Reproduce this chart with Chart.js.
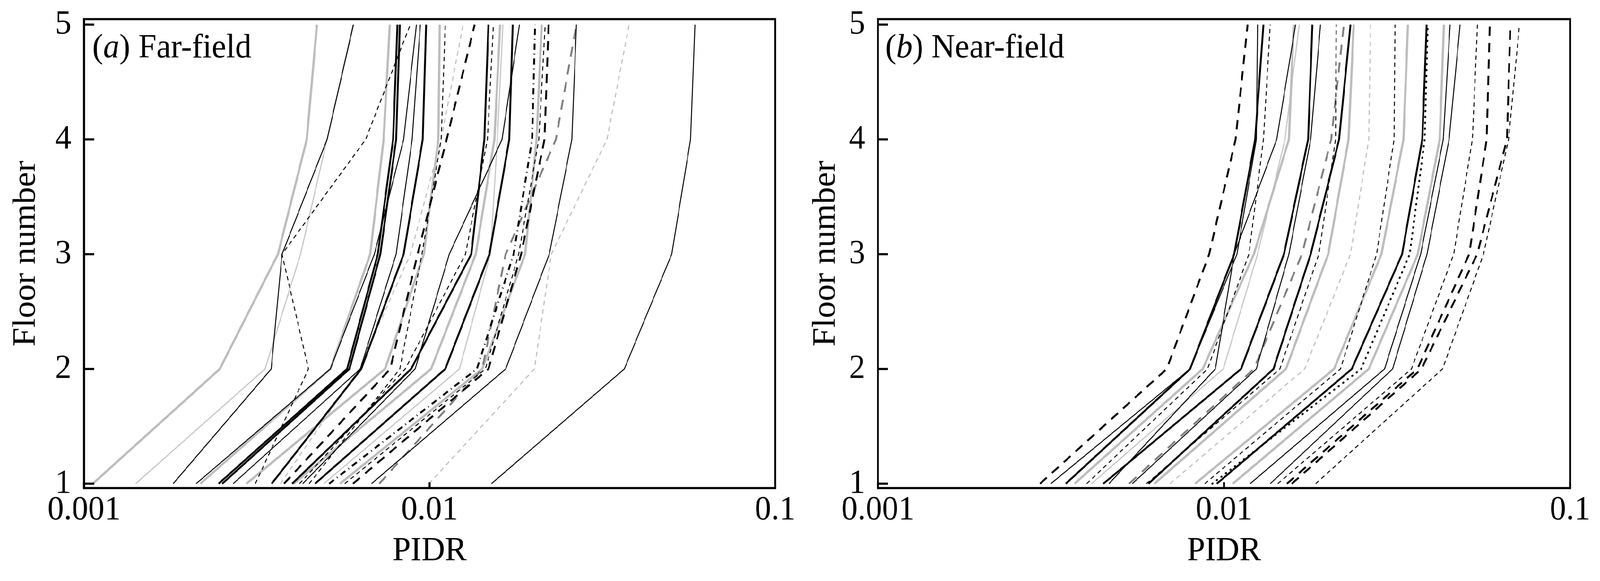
<!DOCTYPE html>
<html>
<head>
<meta charset="utf-8">
<script src="https://cdn.jsdelivr.net/npm/chart.js@4.4.1/dist/chart.umd.min.js"></script>
<style>
  html, body { margin: 0; padding: 0; background: #fff; overflow: hidden; }
  #wrap { position: relative; width: 4281px; height: 1488px; transform-origin: 0 0; }
  canvas { position: absolute; top: 0; }
</style>
</head>
<body>
<div id="wrap">
  <canvas id="farChart" width="2140" height="1488" style="left:0"></canvas>
  <canvas id="nearChart" width="2141" height="1488" style="left:2140px"></canvas>
</div>
<script>
// Pisos (eje y) y marcas de los ejes
const floors = [1, 2, 3, 4, 5];
const yTickValues = [1, 2, 3, 4, 5];
const xTickValues = [0.001, 0.01, 0.1];
const xTickLabels = ['0.001', '0.01', '0.1'];

// (a) Far-field: PIDR por piso (1..5), agrupado por tipo de linea
const farBlackThin = [
  [0.00181, 0.00348, 0.00374, 0.00505, 0.00602],
  [0.00211, 0.00516, 0.00692, 0.00841, 0.00916],
  [0.0027, 0.0063, 0.0080, 0.0089, 0.0094],
  [0.00429, 0.00908, 0.0114, 0.0162, 0.0182],
  [0.00679, 0.0166, 0.0222, 0.0258, 0.0266],
  [0.0151, 0.0366, 0.0502, 0.0569, 0.0586]
];
const farBlackThick = [
  [0.00245, 0.00577, 0.00708, 0.00784, 0.00807],
  [0.00251, 0.00586, 0.0072, 0.0080, 0.0082],
  [0.00349, 0.00634, 0.00841, 0.00955, 0.00977],
  [0.0040, 0.00884, 0.0132, 0.0144, 0.0148],
  [0.00466, 0.0111, 0.0149, 0.0170, 0.0174]
];
const farBlackDashed = [
  [0.00313, 0.00446, 0.00374, 0.00653, 0.00879],
  [0.00448, 0.0082, 0.0095, 0.0108, 0.0111],
  [0.0042, 0.0085, 0.0127, 0.0147, 0.0153],
  [0.00568, 0.0145, 0.0181, 0.0207, 0.0216]
];
const farBlackLongDash = [
  [0.00379, 0.00769, 0.00923, 0.0112, 0.0135],
  [0.0060, 0.0148, 0.0184, 0.0215, 0.0221]
];
const farBlackDashDot = [
  [0.00512, 0.0137, 0.0175, 0.0198, 0.0202]
];
const farGrayThick = [
  [0.00106, 0.00247, 0.00364, 0.00441, 0.00472],
  [0.00217, 0.00516, 0.00673, 0.00736, 0.00767],
  [0.00295, 0.00743, 0.00962, 0.0106, 0.0107],
  [0.00404, 0.0101, 0.0136, 0.0154, 0.0160],
  [0.0055, 0.0142, 0.0189, 0.0204, 0.0211]
];
const farGrayThin = [
  [0.00141, 0.00334, 0.00423, 0.00505, 0.0060],
  [0.00494, 0.0122, 0.0150, 0.0157, 0.0163]
];
const farGrayDashed = [
  [0.00715, 0.0142, 0.0166, 0.0232, 0.0266]
];
const farLightGrayDashed = [
  [0.00996, 0.0201, 0.0225, 0.0326, 0.0378],
  [0.0037, 0.00625, 0.0088, 0.0108, 0.0125]
];

// (b) Near-field
const nearBlackThin = [
  [0.00316, 0.00798, 0.0109, 0.0124, 0.0125],
  [0.00465, 0.00944, 0.0107, 0.0142, 0.0161],
  [0.00543, 0.0124, 0.0154, 0.0178, 0.0190],
  [0.0119, 0.0291, 0.0370, 0.0430, 0.0450],
  [0.0136, 0.0307, 0.0386, 0.0447, 0.0481]
];
const nearBlackThick = [
  [0.00349, 0.00798, 0.0107, 0.0123, 0.0130],
  [0.00448, 0.0112, 0.0149, 0.0175, 0.0180],
  [0.00605, 0.0139, 0.0178, 0.0215, 0.0232],
  [0.00953, 0.0234, 0.0327, 0.0374, 0.0385]
];
const nearBlackDashed = [
  [0.00401, 0.00896, 0.0118, 0.0130, 0.0136],
  [0.00597, 0.0145, 0.0188, 0.0210, 0.0211],
  [0.0088, 0.0217, 0.0276, 0.0310, 0.0312],
  [0.0143, 0.0348, 0.0461, 0.0522, 0.0540],
  [0.0184, 0.0428, 0.0562, 0.0664, 0.0714]
];
const nearBlackLongDash = [
  [0.00294, 0.00683, 0.00906, 0.0108, 0.0117],
  [0.0152, 0.0362, 0.0511, 0.0574, 0.0586],
  [0.0157, 0.0372, 0.0539, 0.0657, 0.0672]
];
const nearBlackDotted = [
  [0.00925, 0.0249, 0.0344, 0.0380, 0.0388]
];
const nearGrayThick = [
  [0.0037, 0.00868, 0.0122, 0.0154, 0.0159],
  [0.00629, 0.0151, 0.0200, 0.0229, 0.0237],
  [0.00825, 0.0208, 0.0285, 0.0330, 0.0340],
  [0.0106, 0.0262, 0.0363, 0.0420, 0.0432]
];
const nearGrayThin = [
  [0.00414, 0.00995, 0.0125, 0.0150, 0.0165]
];
const nearGrayDashed = [
  [0.00532, 0.0122, 0.0168, 0.0204, 0.0222]
];
const nearLightGrayDashed = [
  [0.00698, 0.0171, 0.0232, 0.0262, 0.0265]
];

// Estilos de linea
const lineStyles = {
  blackThin: { color: '#000000', width: 2.5, dash: [] },
  blackThick: { color: '#000000', width: 5, dash: [] },
  blackDashed: { color: '#000000', width: 2.5, dash: [11, 9] },
  blackLongDash: { color: '#000000', width: 5, dash: [24, 18] },
  blackDashDot: { color: '#000000', width: 5, dash: [16, 10, 2, 10] },
  blackDotted: { color: '#000000', width: 5, dash: [1, 14], cap: 'round' },
  grayThick: { color: '#bdbdbd', width: 6, dash: [] },
  grayThin: { color: '#c6c6c6', width: 3, dash: [] },
  grayDashed: { color: '#808080', width: 5, dash: [26, 20] },
  lightGrayDashed: { color: '#c0c0c0', width: 3, dash: [12, 10] }
};

const fontFamily = '"Liberation Serif", "Times New Roman", serif';
const textSize = 87;

// Si la ventana no mide 4281x1488, se escala todo el dibujo para que quepa
const fitPage = () => {
  const w = window.innerWidth || 4281;
  const h = window.innerHeight || 1488;
  document.getElementById('wrap').style.transform = `scale(${w / 4281}, ${h / 1488})`;
};
fitPage();

// Arma datasets desde los grupos (el primero queda arriba)
const buildDatasets = (groups) => {
  const datasets = [];
  groups.forEach(([styleName, rows]) => {
    const st = lineStyles[styleName];
    rows.forEach(values => {
      datasets.push({
        data: values.map((v, i) => ({ x: v, y: floors[i] })),
        borderColor: st.color,
        borderWidth: st.width,
        borderDash: st.dash,
        borderCapStyle: st.cap || 'butt',
        pointRadius: 0,
        tension: 0,
        fill: false
      });
    });
  });
  return datasets;
};

// Marco, marcas hacia adentro y rotulo del panel
const frameAndTicks = {
  id: 'frameAndTicks',
  afterDatasetsDraw(chart, args, opts) {
    const { ctx, chartArea: a, scales: { x, y } } = chart;
    ctx.save();
    ctx.strokeStyle = '#000';
    ctx.lineWidth = 5.5;
    ctx.setLineDash([]);
    ctx.beginPath();
    yTickValues.forEach(v => {
      const py = y.getPixelForValue(v);
      ctx.moveTo(a.left, py);
      ctx.lineTo(a.left + 27, py);
    });
    xTickValues.forEach(v => {
      const px = x.getPixelForValue(v);
      ctx.moveTo(px, a.bottom);
      ctx.lineTo(px, a.bottom - 15);
    });
    ctx.stroke();
    ctx.strokeRect(a.left, a.top, a.right - a.left, a.bottom - a.top);

    ctx.fillStyle = '#000';
    ctx.textBaseline = 'alphabetic';
    ctx.textAlign = 'left';
    let tx = a.left + opts.dx;
    const ty = a.top + 98;
    opts.parts.forEach(p => {
      ctx.font = (p.italic ? 'italic ' : '') + textSize + 'px ' + fontFamily;
      ctx.fillText(p.text, tx, ty);
      tx += ctx.measureText(p.text).width;
    });
    ctx.restore();
  }
};

const makeChart = (canvasId, groups, cfg) => {
  const font = { family: fontFamily, size: textSize, lineHeight: 1.2 };
  return new Chart(document.getElementById(canvasId), {
    type: 'line',
    data: { datasets: buildDatasets(groups) },
    options: {
      responsive: false,
      animation: false,
      devicePixelRatio: 1,
      layout: { padding: { left: 0, right: cfg.rightPad, top: 49, bottom: 0 } },
      plugins: {
        legend: { display: false },
        tooltip: { enabled: false },
        frameAndTicks: { parts: cfg.label, dx: cfg.labelDx }
      },
      scales: {
        x: {
          type: 'logarithmic',
          min: 0.001,
          max: 0.1,
          grid: { display: false, drawTicks: false },
          border: { display: false },
          afterBuildTicks: (scale) => { scale.ticks = xTickValues.map(v => ({ value: v })); },
          afterFit: (scale) => {
            scale.height = 238;
            scale.paddingLeft = 0;
            scale.paddingRight = 0;
          },
          ticks: {
            autoSkip: false,
            maxRotation: 0,
            padding: 5,
            color: '#000',
            font,
            callback: (value, index) => xTickLabels[index]
          },
          title: { display: true, text: 'PIDR', color: '#000', font, padding: { top: 0, bottom: 24 } }
        },
        y: {
          type: 'linear',
          min: 0.962,
          max: 5.048,
          grid: { display: false, drawTicks: false },
          border: { display: false },
          afterBuildTicks: (scale) => { scale.ticks = yTickValues.map(v => ({ value: v })); },
          afterFit: (scale) => {
            scale.width = cfg.yAxisWidth;
            scale.paddingTop = 0;
            scale.paddingBottom = 0;
          },
          ticks: {
            padding: cfg.yTickPad,
            color: '#000',
            font,
            callback: (value) => String(value)
          },
          title: { display: true, text: 'Floor number', color: '#000', font, padding: { top: cfg.yTitlePad, bottom: 0 } }
        }
      }
    },
    plugins: [frameAndTicks]
  });
};

makeChart('farChart', [
  ['blackThin', farBlackThin],
  ['blackThick', farBlackThick],
  ['blackDashed', farBlackDashed],
  ['blackLongDash', farBlackLongDash],
  ['blackDashDot', farBlackDashDot],
  ['grayDashed', farGrayDashed],
  ['grayThick', farGrayThick],
  ['grayThin', farGrayThin],
  ['lightGrayDashed', farLightGrayDashed]
], {
  rightPad: 66, yAxisWidth: 225, yTickPad: 34, yTitlePad: 18, labelDx: 22,
  label: [{ text: '(' }, { text: 'a', italic: true }, { text: ') Far-field' }]
});

makeChart('nearChart', [
  ['blackThin', nearBlackThin],
  ['blackThick', nearBlackThick],
  ['blackDashed', nearBlackDashed],
  ['blackLongDash', nearBlackLongDash],
  ['blackDotted', nearBlackDotted],
  ['grayDashed', nearGrayDashed],
  ['grayThick', nearGrayThick],
  ['grayThin', nearGrayThin],
  ['lightGrayDashed', nearLightGrayDashed]
], {
  rightPad: 80, yAxisWidth: 209, yTickPad: 34, yTitlePad: 18, labelDx: 20,
  label: [{ text: '(' }, { text: 'b', italic: true }, { text: ') Near-field' }]
});
</script>
</body>
</html>
